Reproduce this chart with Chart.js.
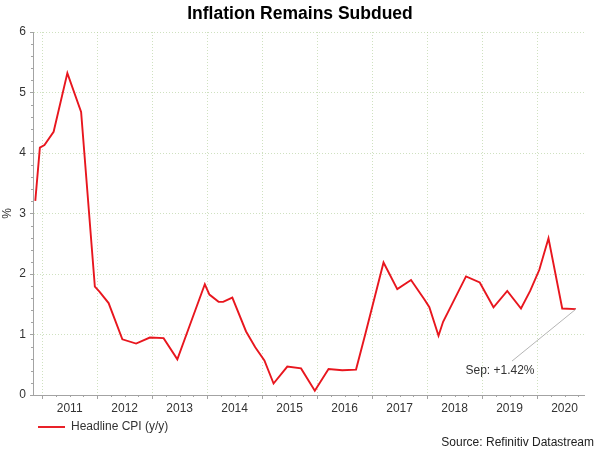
<!DOCTYPE html>
<html>
<head>
<meta charset="utf-8">
<script src="https://cdn.jsdelivr.net/npm/chart.js@4.4.0/dist/chart.umd.min.js"></script>
<style>
  html, body { margin: 0; padding: 0; background: #fff; }
</style>
</head>
<body>
<canvas id="cpiChart" width="600" height="451"></canvas>
<script>
// turning points of the line (month, % y/y)
const months = ['2010-11','2010-12','2011-01','2011-03','2011-06','2011-09','2011-12',
  '2012-01','2012-03','2012-06','2012-09','2012-12','2013-03','2013-06','2013-09','2013-12',
  '2014-01','2014-03','2014-04','2014-06','2014-09','2014-11','2015-01','2015-03','2015-06',
  '2015-09','2015-12','2016-03','2016-06','2016-09','2016-11','2017-03','2017-06','2017-09',
  '2017-12','2018-01','2018-03','2018-04','2018-09','2018-12','2019-03','2019-06','2019-09',
  '2019-11','2020-01','2020-03','2020-06','2020-09'];
const cpiValues = [3.21, 4.09, 4.13, 4.35, 5.32, 4.68, 1.79,
  1.71, 1.52, 0.92, 0.85, 0.95, 0.94, 0.59, 1.21, 1.83,
  1.66, 1.54, 1.54, 1.61, 1.05, 0.79, 0.57, 0.19, 0.47,
  0.44, 0.07, 0.43, 0.41, 0.42, 1.0, 2.19, 1.75, 1.90,
  1.57, 1.45, 0.98, 1.21, 1.96, 1.86, 1.45, 1.72, 1.43,
  1.72, 2.07, 2.59, 1.43, 1.42];
const yearLabels = [2011, 2012, 2013, 2014, 2015, 2016, 2017, 2018, 2019, 2020];
const yTicks = [0, 1, 2, 3, 4, 5, 6];
const monthNames = ['Jan','Feb','Mar','Apr','May','Jun','Jul','Aug','Sep','Oct','Nov','Dec'];

const X_MIN = 2010 + 10 / 12;
const X_MAX = 2020 + 10.25 / 12;
const RED = '#e8161e';
const AXIS = '#a3a3a3';
const GRID = 'rgba(175, 205, 150, 0.6)';
const TEXT = '#333';

function toYear(m) {
  const [y, mo] = m.split('-').map(Number);
  return y + (mo - 0.5) / 12;
}
const isWhole = v => Math.abs(v - Math.round(v)) < 1e-6;

Chart.defaults.font.family = '"Liberation Sans", Arial, sans-serif';
Chart.defaults.font.size = 12;
Chart.defaults.color = TEXT;

// short marks for quarters / 0.2 steps
const minorTicks = {
  id: 'minorTicks',
  afterDraw(chart) {
    const {ctx, chartArea, scales: {x, y}} = chart;
    ctx.save();
    ctx.strokeStyle = AXIS;
    ctx.lineWidth = 1;
    ctx.beginPath();
    x.ticks.forEach(t => {
      if (isWhole(t.value)) return;
      const px = Math.round(x.getPixelForValue(t.value)) + 0.5;
      ctx.moveTo(px, chartArea.bottom);
      ctx.lineTo(px, chartArea.bottom + 2);
    });
    y.ticks.forEach(t => {
      if (isWhole(t.value)) return;
      const py = Math.round(y.getPixelForValue(t.value)) + 0.5;
      ctx.moveTo(chartArea.left, py);
      ctx.lineTo(chartArea.left - 2, py);
    });
    ctx.stroke();
    ctx.restore();
  }
};

// callout for the latest reading + source line
const callout = {
  id: 'callout',
  afterDraw(chart) {
    const {ctx} = chart;
    const pts = chart.getDatasetMeta(0).data;
    const last = pts[pts.length - 1];
    const lastMonth = months[months.length - 1];
    const lastVal = cpiValues[cpiValues.length - 1];
    const label = monthNames[Number(lastMonth.split('-')[1]) - 1] + ': +' + lastVal.toFixed(2) + '%';
    ctx.save();
    ctx.strokeStyle = '#b5b5b5';
    ctx.lineWidth = 1;
    ctx.beginPath();
    ctx.moveTo(last.x, last.y);
    ctx.lineTo(last.x - 64, last.y + 52);
    ctx.stroke();
    ctx.fillStyle = TEXT;
    ctx.font = '12px "Liberation Sans", Arial, sans-serif';
    ctx.textAlign = 'center';
    ctx.textBaseline = 'middle';
    ctx.fillText(label, last.x - 76, last.y + 62);
    ctx.fillStyle = '#222';
    ctx.textAlign = 'right';
    ctx.fillText('Source: Refinitiv Datastream', chart.width - 6, chart.height - 8);
    ctx.restore();
  }
};

const ctx = document.getElementById('cpiChart').getContext('2d');
const cpiChart = new Chart(ctx, {
  type: 'line',
  data: {
    datasets: [{
      label: 'Headline CPI (y/y)',
      data: months.map((m, i) => ({ x: toYear(m), y: cpiValues[i] })),
      borderColor: RED,
      backgroundColor: RED,
      borderWidth: 1.9,
      pointRadius: 0,
      tension: 0,
      fill: false
    }]
  },
  options: {
    responsive: false,
    animation: false,
    layout: { padding: { left: 0, right: 0, top: 0, bottom: 8 } },
    scales: {
      x: {
        type: 'linear',
        min: X_MIN,
        max: X_MAX,
        afterBuildTicks: scale => {
          const ticks = [];
          yearLabels.forEach(yr => {
            for (let q = 0; q < 4; q++) {
              if (yr + q / 4 <= X_MAX) ticks.push({ value: yr + q / 4 });
            }
          });
          scale.ticks = ticks;
        },
        afterFit: scale => {
          scale.height = 21;
          scale.paddingRight = 16;
        },
        ticks: {
          autoSkip: false,
          maxRotation: 0,
          padding: 2,
          color: TEXT,
          callback: v => isWhole(v - 0.5) ? String(Math.round(v - 0.5)) : ''
        },
        grid: {
          color: c => (c.tick && isWhole(c.tick.value)) ? GRID : 'transparent',
          tickColor: c => (c.tick && isWhole(c.tick.value)) ? AXIS : 'transparent',
          tickLength: 4,
          tickBorderDash: [],
          lineWidth: 1
        },
        border: { color: AXIS, width: 1, dash: [1, 2] }
      },
      y: {
        min: yTicks[0],
        max: yTicks[yTicks.length - 1],
        afterBuildTicks: scale => {
          const ticks = [];
          for (let i = yTicks[0] * 5; i <= yTicks[yTicks.length - 1] * 5; i++) ticks.push({ value: i / 5 });
          scale.ticks = ticks;
        },
        afterFit: scale => { scale.width = 33; },
        ticks: {
          autoSkip: false,
          padding: 4,
          color: TEXT,
          callback: v => isWhole(v) ? String(Math.round(v)) : ''
        },
        grid: {
          color: c => (c.tick && isWhole(c.tick.value) && c.tick.value > 0) ? GRID : 'transparent',
          tickColor: c => (c.tick && isWhole(c.tick.value)) ? AXIS : 'transparent',
          tickLength: 3,
          tickBorderDash: [],
          lineWidth: 1
        },
        border: { color: AXIS, width: 1, dash: [1, 2] },
        title: { display: true, text: '%', color: TEXT, padding: 0, font: { size: 12 } }
      }
    },
    plugins: {
      title: {
        display: true,
        text: 'Inflation Remains Subdued',
        color: '#000',
        font: { size: 17.5, weight: 'bold' },
        padding: { top: 4, bottom: 7 }
      },
      legend: {
        position: 'bottom',
        align: 'start',
        fullSize: false,
        labels: {
          usePointStyle: true,
          pointStyle: 'line',
          pointStyleWidth: 27,
          padding: 5,
          color: TEXT,
          font: { size: 12 }
        }
      },
      tooltip: { enabled: false }
    }
  },
  plugins: [minorTicks, callout]
});
</script>
</body>
</html>
